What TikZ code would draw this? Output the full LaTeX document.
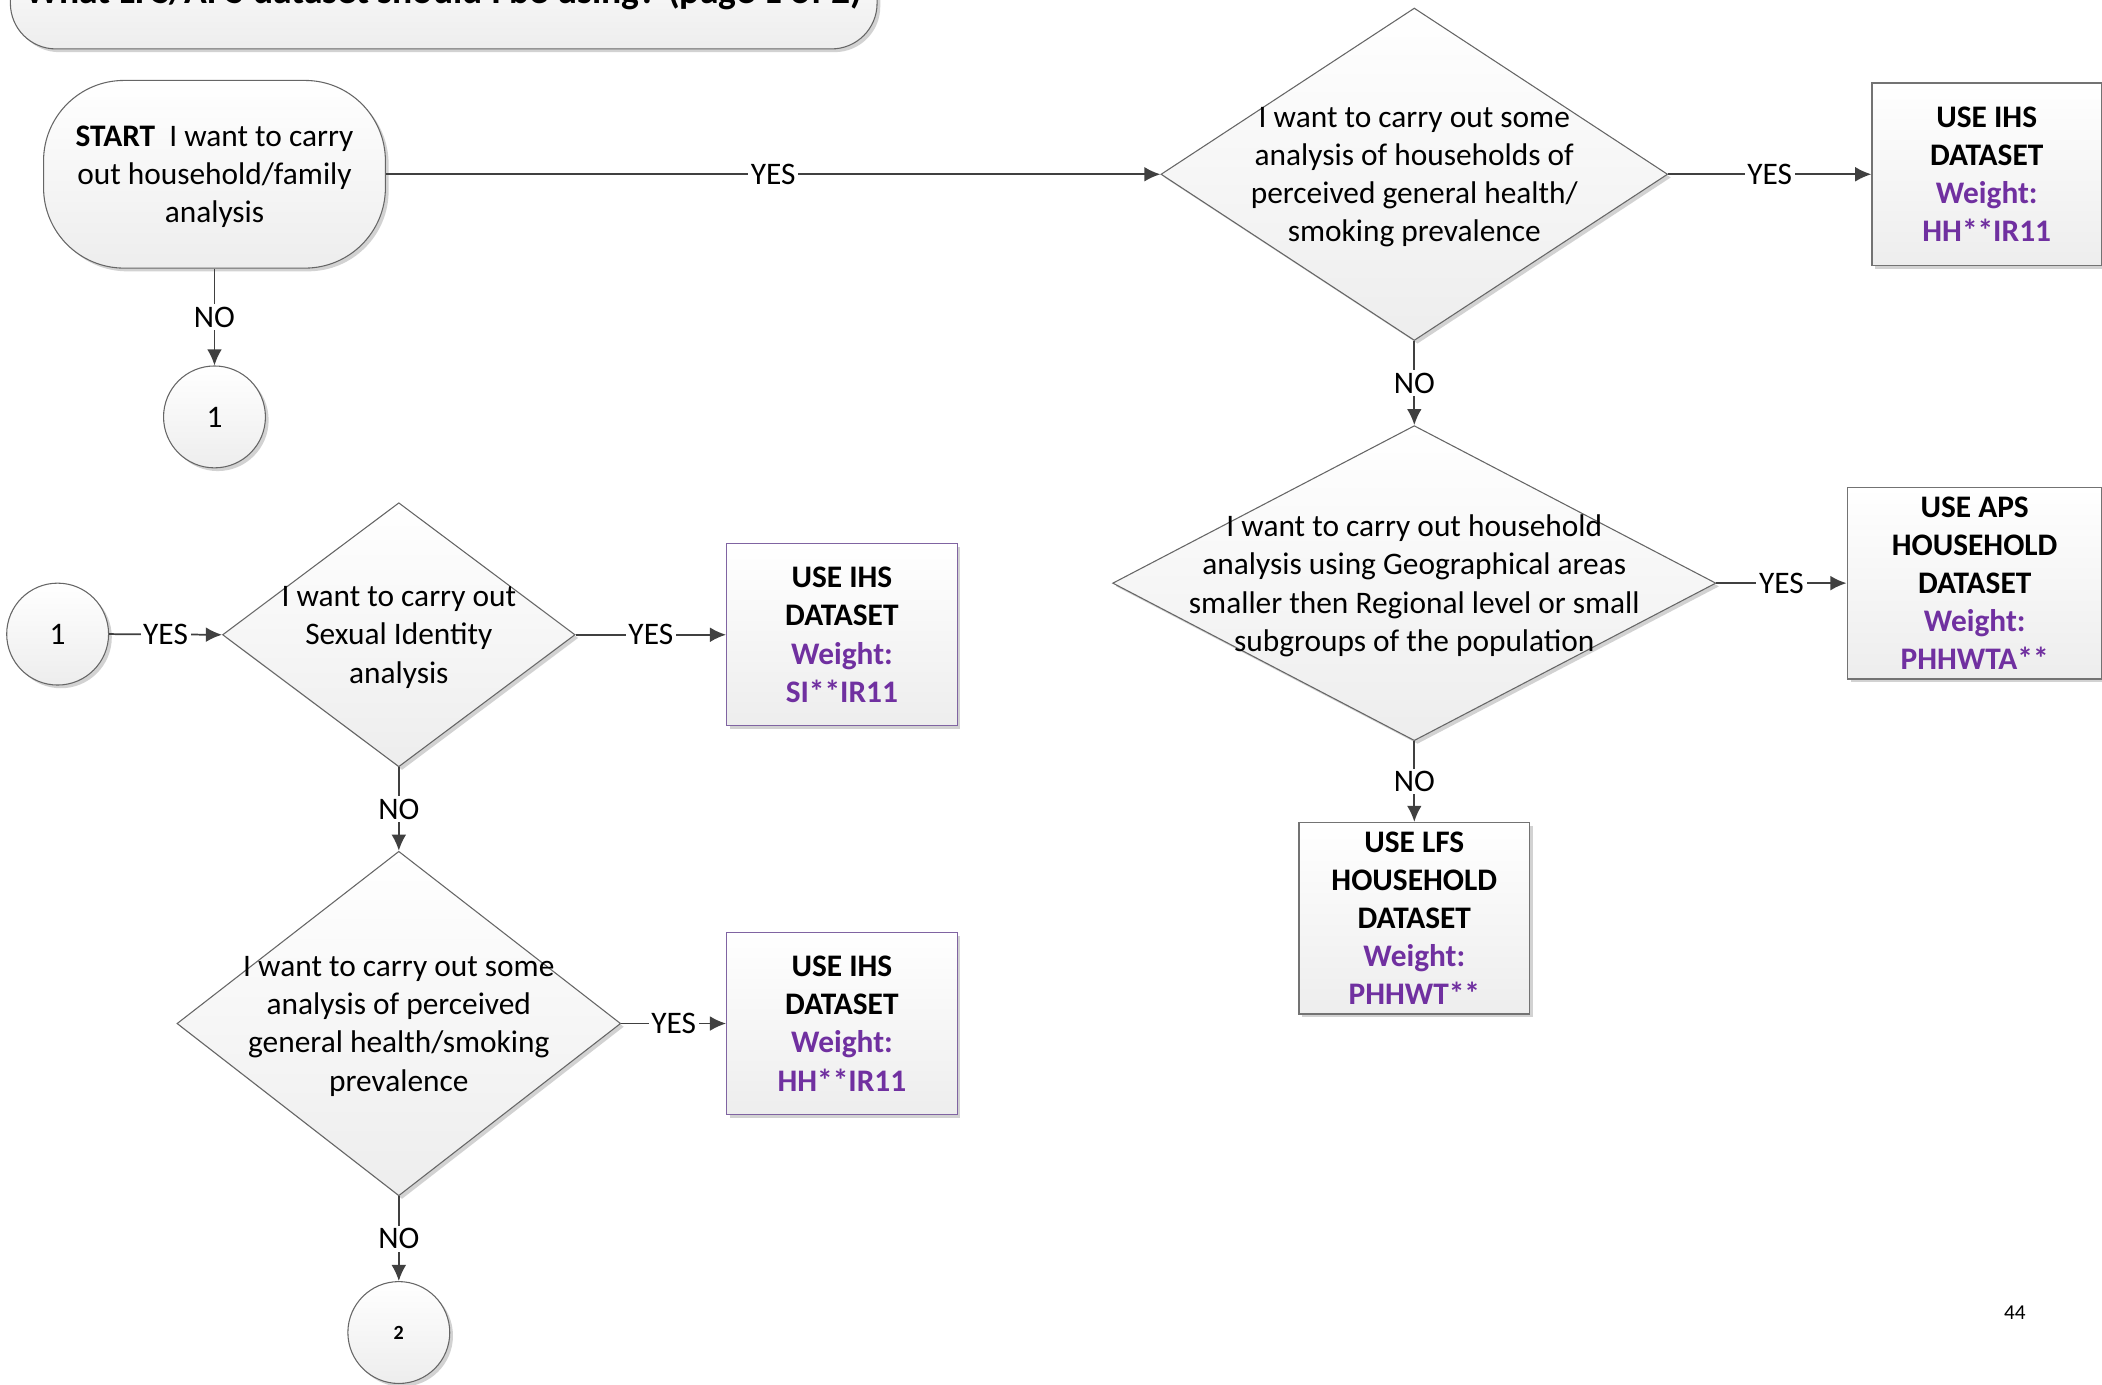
\documentclass[tikz,border=0pt]{standalone}
\usepackage{fontspec}
\setmainfont{Carlito}
\usepackage{xcolor}
\usetikzlibrary{arrows.meta,shapes.geometric,shadows}

\definecolor{wtpurple}{HTML}{7030A0}
\definecolor{boxpurple}{HTML}{8064A2}
\definecolor{linegray}{HTML}{404040}
\newcommand{\txt}{\fontsize{11.7}{14.25}\selectfont}
\newcommand{\wt}[1]{\textcolor{wtpurple}{#1}}

\tikzset{
	base/.style={draw=black!60, line width=0.4pt, top color=white, bottom color=black!7,
		drop shadow={shadow xshift=1.2pt, shadow yshift=-1.2pt, fill=black!35, opacity=0.5}},
	terminal/.style={base, rectangle, rounded corners=30pt, minimum width=127.5pt,
		minimum height=70pt, align=center},
	decision/.style={base, diamond, inner sep=0pt},
	joint/.style={base, circle, minimum size=38pt, inner sep=0pt},
	outcome/.style={base, rectangle, minimum width=86pt, minimum height=68pt,
		align=center, font=\txt\bfseries},
	flow/.style={draw=linegray, line width=0.65pt, -{Latex[length=6pt,width=5.5pt]}},
	answer/.style={fill=white, inner sep=1pt, font=\txt}
}

\begin{document}
\begin{tikzpicture}[x=0.5pt, y=-0.5pt, every node/.style={font=\txt}]
		\useasboundingbox (0,0) rectangle (1568,1033);
		
		\node[base, rectangle, rounded corners=17pt, minimum width=323.25pt, minimum height=42pt,
			font=\fontsize{14}{17}\selectfont\bfseries] (title) at (331,-5.5) {What LFS/APS dataset should I be using? (page 1 of 2)};
		
		\node[terminal] (start) at (160,130) {};
		\node[align=center] (startt) at ([yshift=-1pt]start) {\textbf{START}\ \ I want to carry\\out household/family\\analysis};
		\node[joint] (c1a) at (160,311) {1};
		
		\node[decision, minimum width=189pt, minimum height=124pt] (q1) at (1055,130) {};
		\node[align=center] (q1t) at ([yshift=-1pt]q1) {I want to carry out some\\analysis of households of\\perceived general health/\\smoking prevalence};
		\node[outcome, draw=black!55, line width=0.6pt, minimum width=85.5pt] (ihs1) at (1482,130)
			{USE IHS\\DATASET\\\wt{Weight:}\\\wt{HH**IR11}};
		
		\node[decision, minimum width=225pt, minimum height=117.5pt] (q2) at (1055,435) {};
		\node[align=center] (q2t) at ([yshift=-1pt]q2) {I want to carry out household\\analysis using Geographical areas\\smaller then Regional level or small\\subgroups of the population};
		\node[outcome, draw=black!55, line width=0.6pt, minimum width=95pt] (aps) at (1473,435)
			{USE APS\\HOUSEHOLD\\DATASET\\\wt{Weight:}\\\wt{PHHWTA**}};
		\node[outcome, draw=black!55, line width=0.6pt] (lfs) at (1055,685)
			{USE LFS\\HOUSEHOLD\\DATASET\\\wt{Weight:}\\\wt{PHHWT**}};
		
		\node[joint] (c1b) at (43,473) {1};
		\node[decision, minimum width=131.5pt, minimum height=98.5pt] (q3) at (297.5,473.5) {};
		\node[align=center] (q3t) at ([yshift=-1pt]q3) {I want to carry out\\Sexual Identity\\analysis};
		\node[outcome, draw=boxpurple] (si) at (628,473.5)
			{USE IHS\\DATASET\\\wt{Weight:}\\\wt{SI**IR11}};
		
		\node[decision, minimum width=165.5pt, minimum height=128.5pt] (q4) at (297.5,763.5) {};
		\node[align=center] (q4t) at ([yshift=-1pt]q4) {I want to carry out some\\analysis of perceived\\general health/smoking\\prevalence};
		\node[outcome, draw=boxpurple] (hh) at (628,763.5)
			{USE IHS\\DATASET\\\wt{Weight:}\\\wt{HH**IR11}};
		\node[joint, font=\fontsize{7.5}{9}\selectfont\bfseries] (c2) at (297.5,994) {2};
		
		\node[font=\fontsize{7.9}{9.5}\selectfont] (pg) at (1503,979) {44};
		
		\draw[flow] (start.east) -- node[answer] (a1) {YES} (q1.west);
		\draw[flow] (start.south) -- node[answer] (a2) {NO} (c1a.north);
		\draw[flow] (q1.east) -- node[answer] (a3) {YES} (ihs1.west);
		\draw[flow] (q1.south) -- node[answer] (a4) {NO} (q2.north);
		\draw[flow] (q2.east) -- node[answer] (a5) {YES} (aps.west);
		\draw[flow] (q2.south) -- node[answer] (a6) {NO} (lfs.north);
		\draw[flow] (c1b.east) -- node[answer] (a7) {YES} (q3.west);
		\draw[flow] (q3.east) -- node[answer] (a8) {YES} (si.west);
		\draw[flow] (q3.south) -- node[answer] (a9) {NO} (q4.north);
		\draw[flow] (q4.east) -- node[answer] (a10) {YES} (hh.west);
		\draw[flow] (q4.south) -- node[answer] (a11) {NO} (c2.north);
	\end{tikzpicture}
\end{document}
